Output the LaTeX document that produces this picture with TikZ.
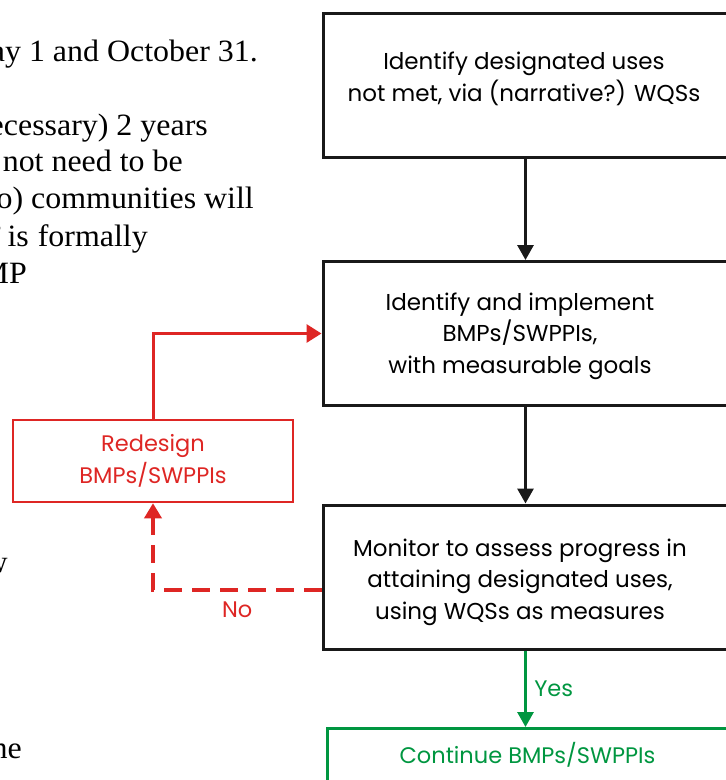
\documentclass[tikz,border=0pt]{standalone}
\usepackage{fontspec}
\setmainfont{Liberation Serif}[FakeStretch=1.03]
\newfontfamily\flowfont{Poppins}
\usetikzlibrary{arrows.meta,positioning}

\definecolor{flowred}{RGB}{222,38,36}
\definecolor{flowgreen}{RGB}{0,150,64}

\tikzset{
  stepbox/.style={draw=black!90, line width=3pt, minimum width=405pt, minimum height=144pt},
  steptext/.style={align=center, inner sep=0pt, font=\flowfont\fontsize{23}{31.5}\selectfont},
  redbox/.style={draw=flowred, text=flowred, line width=2.5pt, minimum width=280pt, minimum height=82pt,
    align=center, inner sep=0pt, font=\flowfont\fontsize{22.5}{31.5}\selectfont},
  greenbox/.style={draw=flowgreen, text=flowgreen, line width=3pt, minimum width=401pt,
    inner ysep=14pt, text depth=70pt, font=\flowfont\fontsize{22.5}{31.5}\selectfont},
  flowarrow/.style={line width=3pt, -{Triangle[width=16pt,length=15pt]}},
  bgtext/.style={anchor=base east, inner sep=0pt, font=\fontsize{31}{37}\selectfont}
}

\begin{document}
\begin{tikzpicture}[x=1pt, y=-1pt]
\useasboundingbox (0,0) rectangle (726,780);
\clip (0,0) rectangle (726,780);

% page text behind the chart
\node[bgtext] (la) at (258,61) {ay 1 and October 31.};
\node[bgtext] (lb) at (208,135) {ecessary) 2 years};
\node[bgtext] (lc) at (183,171) {not need to be};
\node[bgtext] (ld) at (254,208) {o) communities will};
\node[bgtext] (le) at (148,246) {’\hspace{4pt}is\hspace{9pt}formally};
\node[bgtext] (lf) at (27,283) {MP};
\node[bgtext] (lg) at (8,572) {w};
\node[bgtext] (lh) at (2,704) {.};
\node[bgtext] (li) at (22,758) {he};

% boxes
\node[stepbox] (uses) at (525.5,85) {};
\node[stepbox] (implement) at (525.5,333.5) {};
\node[stepbox] (monitor) at (525.5,577) {};
\node[steptext] (usestext) at (524,79) {Identify designated uses\\not met, via (narrative?) WQSs};
\node[steptext] (implementtext) at (520,336) {Identify and implement\\BMPs/SWPPIs,\\with measurable goals};
\node[steptext] (monitortext) at (520,582) {Monitor to assess progress in\\attaining designated uses,\\using WQSs as measures};
\node[redbox] (redesign) at (153,461) {Redesign\\BMPs/SWPPIs};
\node[greenbox, anchor=north] (continue) at (527.5,727) {Continue BMPs/SWPPIs};

% arrows
\draw[flowarrow, black!90] (uses) -- (implement);
\draw[flowarrow, black!90] (implement) -- (monitor);
\draw[flowarrow, flowgreen] (monitor.south) -- node[right=4pt, text=flowgreen, font=\flowfont\fontsize{22.5}{26}\selectfont] {Yes} (monitor.south |- continue.north);

% redesign loop
\draw[line width=3.5pt, flowred, dash pattern=on 18pt off 10pt, -{Triangle[width=17pt,length=15pt]}]
  ([yshift=-13pt]monitor.west) -| node[pos=0.25, below=7pt, text=flowred, font=\flowfont\fontsize{22.5}{26}\selectfont] {No} (redesign.south);
\draw[line width=3pt, flowred, -{Triangle[width=18pt,length=15pt]}] (redesign.north) |- (implement.west);
\end{tikzpicture}
\end{document}
